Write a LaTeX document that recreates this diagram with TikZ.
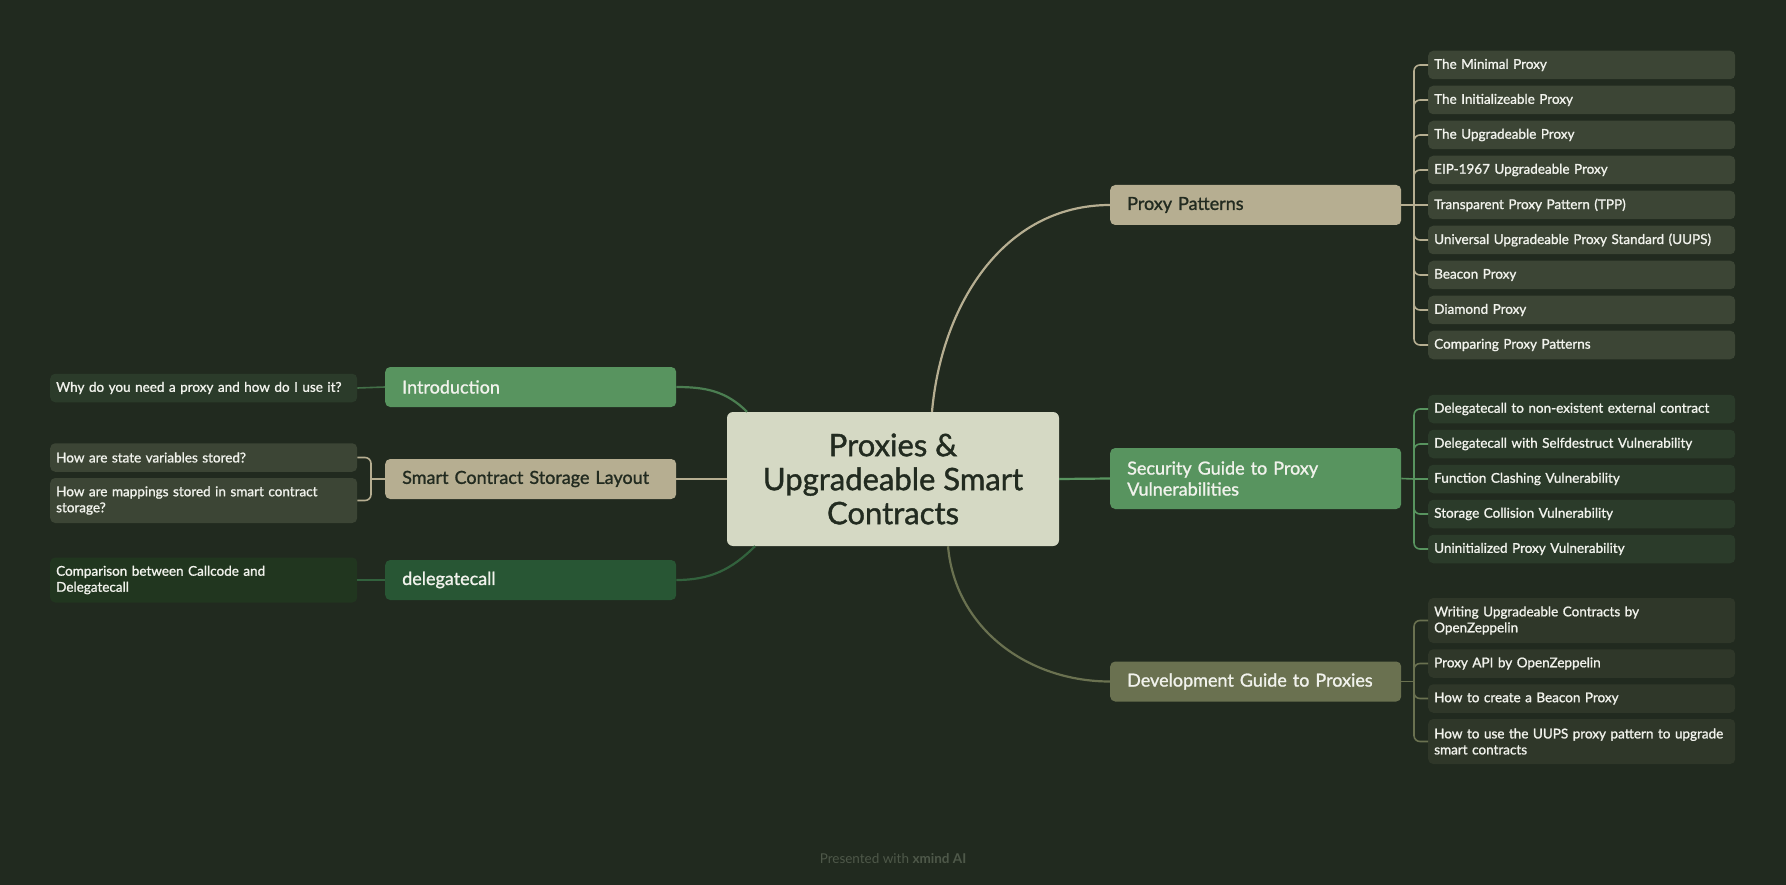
\documentclass[tikz,border=0pt]{standalone}
\usepackage{fontspec}
\setmainfont{Lato}
\newfontfamily\mediumfont{Lato}[FakeBold=1.2]
\usepackage{tikz}

\definecolor{bgdark}{HTML}{212A1F}
\definecolor{rootfill}{HTML}{D5D9C4}
\definecolor{rootink}{HTML}{222B20}
\definecolor{tanfill}{HTML}{B6AE91}
\definecolor{greenfill}{HTML}{58945F}
\definecolor{deepgreen}{HTML}{285634}
\definecolor{olivefill}{HTML}{6A7150}
\definecolor{leafgray}{HTML}{3C4535}
\definecolor{leafgreen}{HTML}{2B3B2A}
\definecolor{leafdeep}{HTML}{21361F}
\definecolor{leafolive}{HTML}{2F3729}
\definecolor{lighttext}{HTML}{F1F2EC}
\definecolor{footink}{HTML}{4E5849}

\begin{document}
\begin{tikzpicture}[x=1pt, y=-1pt]
% --- Global Styles ---
\tikzstyle{root} = [fill=rootfill, text=rootink, rounded corners=6pt, minimum width=332, minimum height=134, align=center, font=\mediumfont\fontsize{31}{34}\selectfont]
\tikzstyle{topic} = [anchor=west, rounded corners=5pt, minimum width=291, minimum height=40, text width=257, inner xsep=17, align=left, font=\mediumfont\fontsize{18}{21}\selectfont]
\tikzstyle{leaf} = [rounded corners=5pt, minimum width=307, minimum height=28.5, text width=295, inner xsep=6, align=left, text=lighttext, font=\mediumfont\fontsize{13.5}{16}\selectfont]
\tikzstyle{curve} = [line width=2.2pt]
\tikzstyle{bracket} = [line width=1.6pt, rounded corners=6pt]

% --- Column Coordinates ---
\def\xleafl{50}     % left leaf column
\def\xtopl{385}     % left topic column
\def\xtopr{1110}    % right topic column
\def\xleafr{1428}   % right leaf column

% --- Canvas ---
\fill[bgdark] (0,0) rectangle (1786,885);
\useasboundingbox (0,0) rectangle (1786,885);

% ==========================================
% CENTRE
% ==========================================
\node[root] (root) at (893,479) {Proxies \&\\Upgradeable Smart\\Contracts};

% ==========================================
% RIGHT: Proxy Patterns
% ==========================================
\node[topic, fill=tanfill, text=rootink] (pp) at (\xtopr,205) {Proxy Patterns};
\node[leaf, anchor=west, fill=leafgray] (pp1) at (\xleafr,65) {The Minimal Proxy};
\node[leaf, anchor=west, fill=leafgray] (pp2) at (\xleafr,100) {The Initializeable Proxy};
\node[leaf, anchor=west, fill=leafgray] (pp3) at (\xleafr,135) {The Upgradeable Proxy};
\node[leaf, anchor=west, fill=leafgray] (pp4) at (\xleafr,170) {EIP-1967 Upgradeable Proxy};
\node[leaf, anchor=west, fill=leafgray] (pp5) at (\xleafr,205) {Transparent Proxy Pattern (TPP)};
\node[leaf, anchor=west, fill=leafgray] (pp6) at (\xleafr,240) {Universal Upgradeable Proxy Standard (UUPS)};
\node[leaf, anchor=west, fill=leafgray] (pp7) at (\xleafr,275) {Beacon Proxy};
\node[leaf, anchor=west, fill=leafgray] (pp8) at (\xleafr,310) {Diamond Proxy};
\node[leaf, anchor=west, fill=leafgray] (pp9) at (\xleafr,345) {Comparing Proxy Patterns};

\draw[curve, tanfill] ([xshift=39]root.north) to[out=85, in=180] (pp.west);
\coordinate (ppfork) at (1414,205);
\draw[bracket, tanfill] (pp.east) -- (ppfork);
\draw[bracket, tanfill] (ppfork) |- (pp1.west);
\draw[bracket, tanfill] (ppfork) |- (pp2.west);
\draw[bracket, tanfill] (ppfork) |- (pp3.west);
\draw[bracket, tanfill] (ppfork) |- (pp4.west);
\draw[bracket, tanfill] (ppfork) -- (pp5.west);
\draw[bracket, tanfill] (ppfork) |- (pp6.west);
\draw[bracket, tanfill] (ppfork) |- (pp7.west);
\draw[bracket, tanfill] (ppfork) |- (pp8.west);
\draw[bracket, tanfill] (ppfork) |- (pp9.west);

% ==========================================
% RIGHT: Security Guide
% ==========================================
\node[topic, fill=greenfill, text=lighttext, minimum height=61] (sec) at (\xtopr,478.5) {Security Guide to Proxy\\Vulnerabilities};
\node[leaf, anchor=west, fill=leafgreen] (sec1) at (\xleafr,409) {\mbox{Delegatecall to non-existent external contract}};
\node[leaf, anchor=west, fill=leafgreen] (sec2) at (\xleafr,444) {Delegatecall with Selfdestruct Vulnerability};
\node[leaf, anchor=west, fill=leafgreen] (sec3) at (\xleafr,479) {Function Clashing Vulnerability};
\node[leaf, anchor=west, fill=leafgreen] (sec4) at (\xleafr,514) {Storage Collision Vulnerability};
\node[leaf, anchor=west, fill=leafgreen] (sec5) at (\xleafr,549) {Uninitialized Proxy Vulnerability};

\draw[curve, greenfill] (root.east) -- (sec.west);
\coordinate (secfork) at (1414,479);
\draw[bracket, greenfill] (sec.east) -- (secfork);
\draw[bracket, greenfill] (secfork) |- (sec1.west);
\draw[bracket, greenfill] (secfork) |- (sec2.west);
\draw[bracket, greenfill] (secfork) -- (sec3.west);
\draw[bracket, greenfill] (secfork) |- (sec4.west);
\draw[bracket, greenfill] (secfork) |- (sec5.west);

% ==========================================
% RIGHT: Development Guide
% ==========================================
\node[topic, fill=olivefill, text=lighttext] (dev) at (\xtopr,681.5) {Development Guide to Proxies};
\node[leaf, anchor=west, fill=leafolive, minimum height=45] (dev1) at (\xleafr,620.5) {Writing Upgradeable Contracts by\\OpenZeppelin};
\node[leaf, anchor=west, fill=leafolive] (dev2) at (\xleafr,663.5) {Proxy API by OpenZeppelin};
\node[leaf, anchor=west, fill=leafolive] (dev3) at (\xleafr,698.5) {How to create a Beacon Proxy};
\node[leaf, anchor=west, fill=leafolive, minimum height=45] (dev4) at (\xleafr,741.5) {\mbox{How to use the UUPS proxy pattern to upgrade}\\smart contracts};

\draw[curve, olivefill] ([xshift=55]root.south) to[out=-85, in=180] (dev.west);
\coordinate (devfork) at (1414,681.5);
\draw[bracket, olivefill] (dev.east) -- (devfork);
\draw[bracket, olivefill] (devfork) |- (dev1.west);
\draw[bracket, olivefill] (devfork) |- (dev2.west);
\draw[bracket, olivefill] (devfork) |- (dev3.west);
\draw[bracket, olivefill] (devfork) |- (dev4.west);

% ==========================================
% LEFT: Introduction, Storage Layout, delegatecall
% ==========================================
\node[topic, fill=greenfill, text=lighttext] (intro) at (\xtopl,387) {Introduction};
\node[topic, fill=tanfill, text=rootink] (stor) at (\xtopl,479) {Smart Contract Storage Layout};
\node[topic, fill=deepgreen, text=lighttext] (dele) at (\xtopl,580) {delegatecall};

\node[leaf, anchor=west, fill=leafgreen] (why) at (\xleafl,388) {\mbox{Why do you need a proxy and how do I use it?}};
\node[leaf, anchor=west, fill=leafgray] (st1) at (\xleafl,457.5) {How are state variables stored?};
\node[leaf, anchor=west, fill=leafgray, minimum height=45] (st2) at (\xleafl,500.5) {How are mappings stored in smart contract\\storage?};
\node[leaf, anchor=west, fill=leafdeep, minimum height=45] (cmp) at (\xleafl,580) {Comparison between Callcode and\\Delegatecall};

% Links from the centre
\draw[curve, greenfill!85!black] (intro.east) to[out=0, in=135] ([xshift=-146]root.north);
\draw[curve, tanfill] (stor.east) -- (root.west);
\draw[curve, deepgreen!80!greenfill] (dele.east) to[out=0, in=-135] ([xshift=-138]root.south);

% Links to the leaves
\draw[bracket, greenfill!75!black] (intro.west) -- (why.east);
\coordinate (storfork) at (371,479);
\draw[bracket, tanfill] (stor.west) -- (storfork);
\draw[bracket, tanfill] (storfork) |- (st1.east);
\draw[bracket, tanfill] (storfork) |- (st2.east);
\draw[bracket, deepgreen!80!greenfill] (dele.west) -- (cmp.east);

% Footer
\node[text=footink, font=\fontsize{13.5}{15}\selectfont] (credit) at (893,859) {Presented with \textbf{xmind AI}};
\end{tikzpicture}
\end{document}
